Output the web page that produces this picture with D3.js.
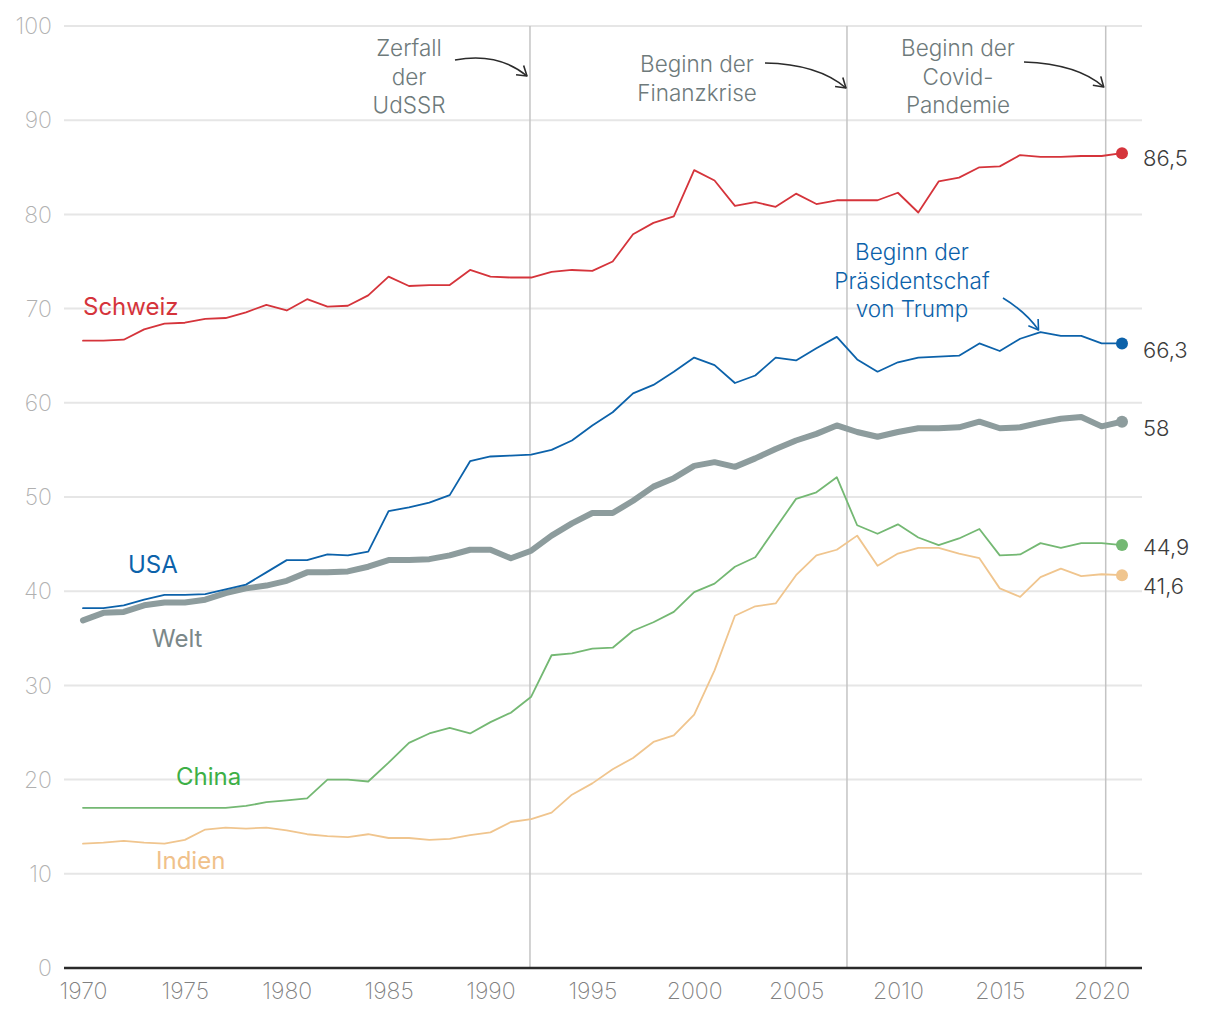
<!DOCTYPE html>
<html><head><meta charset="utf-8">
<script src="https://cdn.jsdelivr.net/npm/d3@7"></script>
<style>
body{margin:0;background:#fff;}
svg{display:block;font-family:Inter,"Noto Sans",sans-serif;}
</style></head>
<body><svg id="c" width="1220" height="1020"></svg>
<script>
const years = d3.range(1970, 2022);
const schweiz = [66.6,66.6,66.7,67.8,68.4,68.5,68.9,69.0,69.6,70.4,69.8,71.0,70.2,70.3,71.4,73.4,72.4,72.5,72.5,74.1,73.4,73.3,73.3,73.9,74.1,74.0,75.0,77.9,79.1,79.8,84.7,83.6,80.9,81.3,80.8,82.2,81.1,81.5,81.5,81.5,82.3,80.2,83.5,83.9,85.0,85.1,86.3,86.1,86.1,86.2,86.2,86.5];
const usa = [38.2,38.2,38.5,39.1,39.6,39.6,39.7,40.2,40.7,42.0,43.3,43.3,43.9,43.8,44.2,48.5,48.9,49.4,50.2,53.8,54.3,54.4,54.5,55.0,56.0,57.6,59.0,61.0,61.9,63.3,64.8,64.0,62.1,62.9,64.8,64.5,65.8,67.0,64.6,63.3,64.3,64.8,64.9,65.0,66.3,65.5,66.8,67.5,67.1,67.1,66.3,66.3];
const welt = [36.9,37.7,37.8,38.5,38.8,38.8,39.1,39.8,40.3,40.6,41.1,42.0,42.0,42.1,42.6,43.3,43.3,43.4,43.8,44.4,44.4,43.5,44.3,45.9,47.2,48.3,48.3,49.6,51.1,52.0,53.3,53.7,53.2,54.1,55.1,56.0,56.7,57.6,56.9,56.4,56.9,57.3,57.3,57.4,58.0,57.3,57.4,57.9,58.3,58.5,57.5,58.0];
const china = [17.0,17.0,17.0,17.0,17.0,17.0,17.0,17.0,17.2,17.6,17.8,18.0,20.0,20.0,19.8,21.8,23.9,24.9,25.5,24.9,26.1,27.1,28.8,33.2,33.4,33.9,34.0,35.8,36.7,37.8,39.9,40.8,42.6,43.6,46.7,49.8,50.5,52.1,47.0,46.1,47.1,45.7,44.9,45.6,46.6,43.8,43.9,45.1,44.6,45.1,45.1,44.9];
const indien = [13.2,13.3,13.5,13.3,13.2,13.6,14.7,14.9,14.8,14.9,14.6,14.2,14.0,13.9,14.2,13.8,13.8,13.6,13.7,14.1,14.4,15.5,15.8,16.5,18.4,19.6,21.1,22.3,24.0,24.7,26.9,31.6,37.4,38.4,38.7,41.7,43.8,44.4,45.9,42.7,44.0,44.6,44.6,44.0,43.5,40.3,39.4,41.5,42.4,41.6,41.8,41.7];
const seriesNames = ["Schweiz","USA","Welt","China","Indien"];
const endLabels = ["86,5","66,3","58","44,9","41,6"];
const yTicks = [0,10,20,30,40,50,60,70,80,90,100];
const xTicks = [1970,1975,1980,1985,1990,1995,2000,2005,2010,2015,2020];
const eventDates = [1991.94, 2007.5, 2020.2];
const eventTexts = [["Zerfall","der","UdSSR"],["Beginn der","Finanzkrise"],["Beginn der","Covid-","Pandemie"]];
const trumpText = ["Beginn der","Präsidentschaf","von Trump"];

const svg = d3.select("#c");
const x = d3.scaleLinear().domain([1970, 2021]).range([83, 1122]);
const y = d3.scaleLinear().domain([0, 100]).range([968, 26]);
const colors = {Schweiz:"#d5343b", USA:"#0c62aa", Welt:"#8d9c9d", China:"#74b873", Indien:"#f0c58e"};
const labelColors = {Schweiz:"#d5343b", USA:"#0c62aa", Welt:"#7b8889", China:"#3daf46", Indien:"#f0c18a"};
const widths = {Schweiz:1.8, USA:1.8, Welt:6, China:1.8, Indien:1.8};
const dataMap = {Schweiz:schweiz, USA:usa, Welt:welt, China:china, Indien:indien};

// gridlines
svg.append("g").selectAll("line").data(yTicks.filter(d=>d>0)).join("line")
  .attr("x1",64).attr("x2",1142).attr("y1",d=>y(d)).attr("y2",d=>y(d))
  .attr("stroke","#e6e6e6").attr("stroke-width",2);
// y tick labels
svg.append("g").selectAll("text").data(yTicks).join("text")
  .attr("x",52).attr("y",d=>y(d)).attr("dy","0.36em").attr("text-anchor","end")
  .attr("font-size",23).attr("font-weight",200).attr("fill","#b0b0b0").text(d=>d);
// event lines
svg.append("g").selectAll("line").data(eventDates).join("line")
  .attr("x1",d=>x(d)).attr("x2",d=>x(d)).attr("y1",y(100)).attr("y2",y(0))
  .attr("stroke","#c4c4c4").attr("stroke-width",1.5);
// x axis
const xAxis = d3.axisBottom(x).tickValues(xTicks).tickFormat(d3.format("d")).tickSize(0).tickPadding(15);
const gx = svg.append("g").attr("transform",`translate(0,${y(0)})`).call(xAxis);
gx.select(".domain").remove();
gx.selectAll("text").attr("font-size",23).attr("font-weight",200).attr("fill","#808080").attr("font-family","Inter,sans-serif");
svg.append("line").attr("x1",64).attr("x2",1142).attr("y1",y(0)).attr("y2",y(0)).attr("stroke","#2a2a2a").attr("stroke-width",2.5);

// lines
const line = d3.line().x((d,i)=>x(years[i])).y(d=>y(d));
const drawOrder = ["Indien","China","Welt","USA","Schweiz"];
drawOrder.forEach(n=>{
  svg.append("path").datum(dataMap[n]).attr("d",line).attr("fill","none")
    .attr("stroke",colors[n]).attr("stroke-width",widths[n]).attr("stroke-linejoin","round").attr("stroke-linecap","round");
  const arr = dataMap[n];
  svg.append("circle").attr("cx",x(2021)).attr("cy",y(arr[arr.length-1])).attr("r",6).attr("fill",colors[n]);
});
// end labels (nudged to avoid overlaps)
const nudge = {Schweiz:5, USA:6.5, Welt:6.5, China:2, Indien:11};
seriesNames.forEach((n,i)=>{
  const arr = dataMap[n];
  svg.append("text").attr("x",1143).attr("y",y(arr[arr.length-1]) + nudge[n]).attr("dy","0.36em")
    .attr("font-size",22).attr("font-weight",300).attr("fill","#3c3c3c").text(endLabels[i]);
});
// series labels
const seriesLabelPos = {Schweiz:[83,306], USA:[128,564], Welt:[152,638], China:[176,776], Indien:[156,860]};
seriesNames.forEach(n=>{
  svg.append("text").attr("x",seriesLabelPos[n][0]).attr("y",seriesLabelPos[n][1]).attr("dy","0.36em")
    .attr("font-size",24).attr("fill",labelColors[n]).text(n);
});

// annotation helper
function arrow(x0,y0,cx,cy,x1,y1,color){
  svg.append("path").attr("d",`M${x0},${y0}Q${cx},${cy} ${x1},${y1}`).attr("fill","none")
    .attr("stroke",color).attr("stroke-width",1.6);
  const ang = Math.atan2(y1-cy, x1-cx);
  const L = 11, a = Math.PI/5.5;
  const p1 = [x1 - L*Math.cos(ang-a), y1 - L*Math.sin(ang-a)];
  const p2 = [x1 - L*Math.cos(ang+a), y1 - L*Math.sin(ang+a)];
  svg.append("path").attr("d",`M${p1[0]},${p1[1]}L${x1},${y1}L${p2[0]},${p2[1]}`).attr("fill","none")
    .attr("stroke",color).attr("stroke-width",1.6).attr("stroke-linejoin","round");
}
function multiText(lines, cx, yTop, color){
  const t = svg.append("text").attr("text-anchor","middle").attr("font-size",22.5).attr("font-weight",300).attr("fill",color);
  lines.forEach((l,i)=>t.append("tspan").attr("x",cx).attr("y",yTop + i*28.7).text(l));
}
const annColor = "#6e7a7b";
multiText(eventTexts[0], 409, 56, annColor);
multiText(eventTexts[1], 697, 72, annColor);
multiText(eventTexts[2], 958, 56, annColor);
arrow(455,60, 498,52, x(eventDates[0])-3,76, "#2b2b2b");
arrow(765,63, 818,64, x(eventDates[1])-1,88, "#2b2b2b");
arrow(1024,62, 1078,64, x(eventDates[2])-2,87, "#2b2b2b");
multiText(trumpText, 912, 260, "#0c62aa");
arrow(1003,298, 1026,312, x(2017)-2,330, "#0c62aa");
</script></body></html>
